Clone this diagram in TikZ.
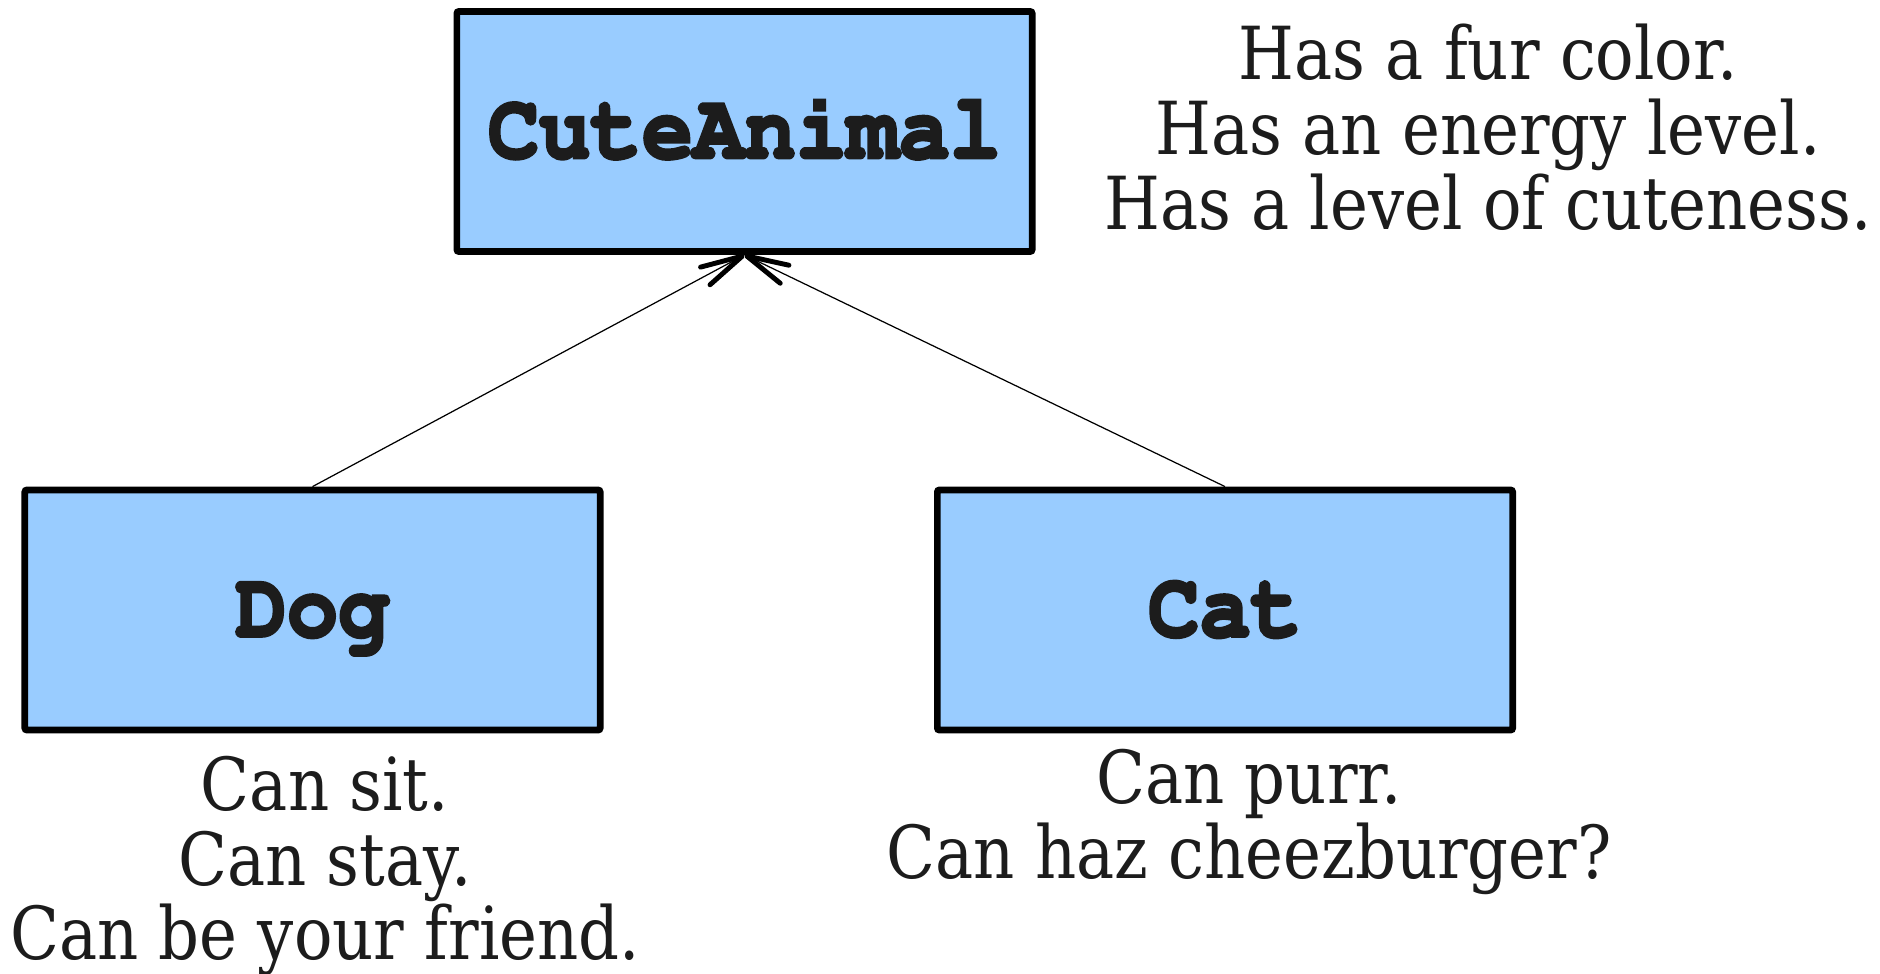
\documentclass[tikz,border=0pt]{standalone}
\usepackage[T1]{fontenc}
\usepackage{fontspec}
\usetikzlibrary{arrows.meta}
\newfontfamily\notefont[FakeStretch=0.875]{DejaVu Serif}
\definecolor{boxblue}{HTML}{99CCFF}
\definecolor{ink}{HTML}{1C1C1C}
\newcommand{\boxlabel}[1]{\scalebox{0.925}[1]{\fontencoding{T1}\fontfamily{pcr}\fontseries{b}\selectfont\fontsize{26.3}{28}\selectfont\special{pdf:literal direct 2 Tr 0.9 w}#1\special{pdf:literal direct 0 Tr}}}
\tikzset{
  classbox/.style={draw=black, fill=boxblue, line width=1.9pt, rounded corners=0.6pt,
    minimum width=5.75cm, minimum height=2.40cm, inner sep=0pt, text=ink,
    text height=15pt, text depth=0pt},
  note/.style={align=center, text=ink, inner sep=0pt,
    font=\notefont\fontsize{20.8}{21.3}\selectfont},
  conn/.style={line width=0.35pt, draw=black,
    -{Straight Barb[length=4.2mm,width=2mm,line width=1.4pt,round]}}
}
\begin{document}
\begin{tikzpicture}[x=0.01cm,y=-0.01cm]
\useasboundingbox (0,0) rectangle (1880,973);
\node[classbox] (top) at (744.5,131.5) {\boxlabel{CuteAnimal}};
\node[classbox] (dog) at (312.5,610) {\boxlabel{Dog}};
\node[classbox] (cat) at (1225,610) {\boxlabel{Cat}};
\draw[conn] (dog.north) -- (top.south);
\draw[conn] (cat.north) -- (top.south);
\node[note] (topnote) at (1488,127) {Has a fur color.\\Has an energy level.\\Has a level of cuteness.};
\node[note] (dognote) at (325,866) {Can sit.\\Can stay.\\Can be your friend.};
\node[note] (catnote) at (1249,822) {Can purr.\\Can haz cheezburger?};
\end{tikzpicture}
\end{document}
